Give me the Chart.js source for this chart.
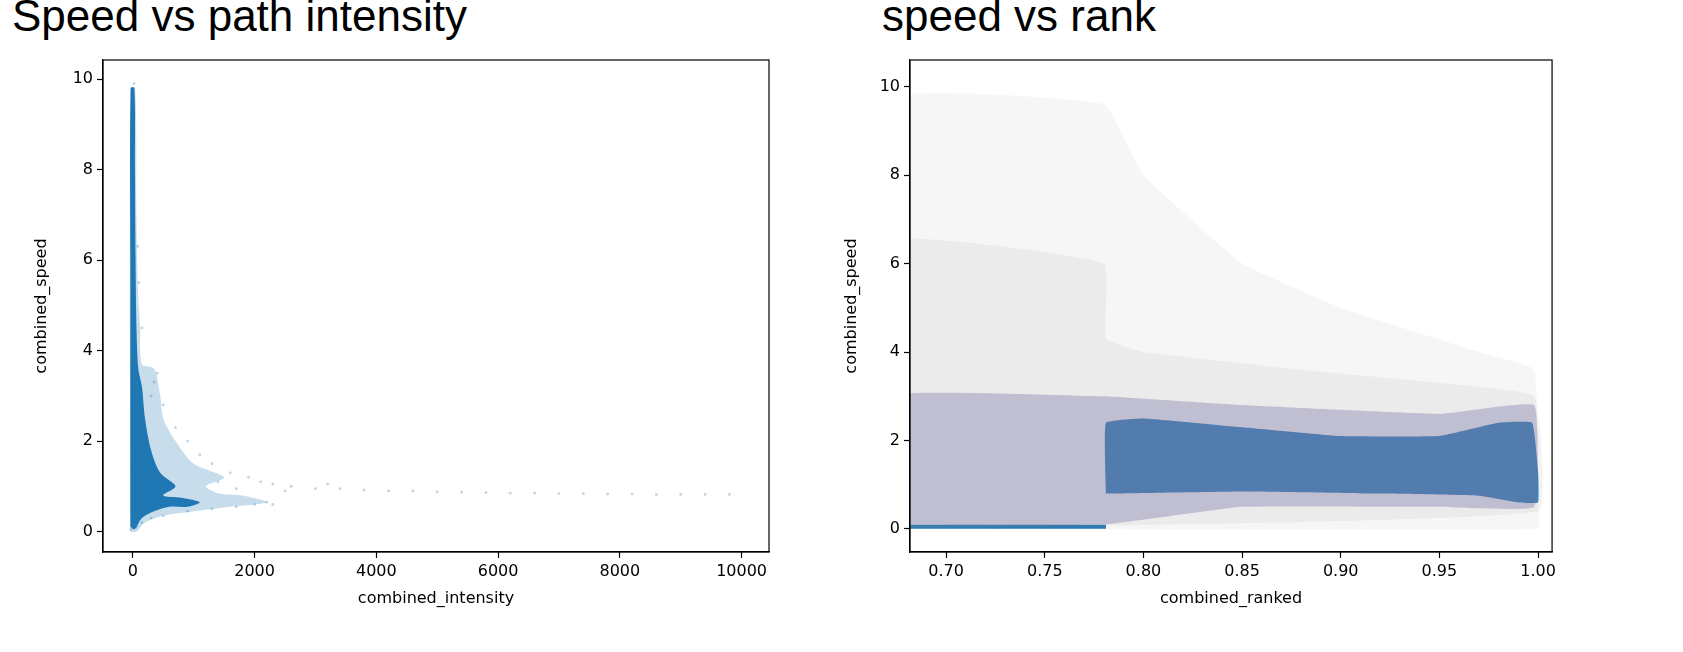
<!DOCTYPE html>
<html><head><meta charset="utf-8">
<script src="https://cdn.jsdelivr.net/npm/chart.js@4/dist/chart.umd.min.js"></script>
<style>
body{margin:0;background:#fff;width:1683px;height:652px;overflow:hidden;font-family:"DejaVu Sans";}
.t{position:absolute;top:-9px;font-family:"Liberation Sans";font-size:44px;color:#000;white-space:nowrap;}
.c{position:absolute;top:0;height:652px;}
</style></head><body>
<div class="t" style="left:12px">Speed vs path intensity</div>
<div class="t" style="left:882px">speed vs rank</div>
<div class="c" style="left:0;width:775px"><canvas id="a"></canvas></div>
<div class="c" style="left:800px;width:760px"><canvas id="b"></canvas></div>
<script>
// ---- left chart data ----
const leftXTicks=[0,2000,4000,6000,8000,10000];
const leftYTicks=[0,2,4,6,8,10];
const leftSparse=[[-30,0.05],[60,0.1],[150,0.2],[300,0.3],[500,0.35],[900,0.45],[1300,0.5],[1700,0.55],[2000,0.6],[2200,0.65],[2300,0.6],[400,3.5],[350,3.3],[300,3.0],[500,2.8],[700,2.3],[900,2.0],[1100,1.7],[1300,1.5],[1600,1.3],[1900,1.2],[2100,1.1],[1400,1.1],[1700,0.95],[2300,1.05],[2600,1.0],[3000,0.95],[3400,0.95],[3800,0.92],[4200,0.9],[4600,0.9],[5000,0.88],[5400,0.87],[5800,0.86],[6200,0.85],[6600,0.85],[7000,0.84],[7400,0.84],[7800,0.83],[8200,0.83],[8600,0.82],[9000,0.82],[9400,0.82],[9800,0.82],[2500,0.9],[3200,1.05],[150,4.5],[100,5.5],[80,6.3],[20,9.9]];
const leftMid=[[-40,0],[60,0],[200,0.2],[500,0.35],[1000,0.45],[1600,0.55],[2200,0.65],[1800,0.8],[1400,0.85],[1200,1.0],[1500,1.2],[1000,1.5],[700,2.0],[500,2.5],[450,3.0],[350,3.6],[150,3.7],[120,4.5],[80,5.5],[60,7],[40,9.8],[-40,9.8],[-40,0]];
const leftCore=[[-40,0.1],[30,0.05],[150,0.3],[350,0.45],[600,0.55],[900,0.55],[1100,0.65],[800,0.75],[500,0.8],[700,1.0],[450,1.3],[300,1.8],[200,2.5],[150,3.2],[90,3.6],[60,4.5],[45,6],[35,8],[25,9.8],[-35,9.8],[-40,6],[-40,0.1]];
// ---- right chart data ----
const rightXTicks=[0.70,0.75,0.80,0.85,0.90,0.95,1.00];
const rightYTicks=[0,2,4,6,8,10];
const rightHaze=[[0.669,0],[1.0,0],[1.0,0.5],[0.998,3.6],[0.97,4.0],[0.9,5.0],[0.85,6.0],[0.8,8.0],[0.78,9.6],[0.669,9.7],[0.669,0]];
const rightHaze2=[[0.669,0],[1.0,0.4],[0.998,3.0],[0.95,3.3],[0.88,3.6],[0.8,4.0],[0.781,4.3],[0.78,6],[0.669,6.5],[0.669,0]];
const rightPurple=[[0.669,0.1],[0.78,0.1],[0.85,0.5],[0.95,0.5],[0.998,0.5],[0.998,2.8],[0.95,2.6],[0.85,2.8],[0.781,3.0],[0.78,3.0],[0.669,3.0],[0.669,0.1]];
const rightCore=[[0.781,0.8],[0.85,0.85],[0.92,0.8],[0.97,0.75],[0.99,0.6],[1.0,0.6],[1.0,1.3],[0.997,2.4],[0.98,2.4],[0.95,2.1],[0.9,2.1],[0.85,2.3],[0.8,2.5],[0.781,2.4],[0.781,0.8]];
const rightZeroLine=[[0.669,0.05],[0.781,0.05]];

function axes(xmin,xmax,ymin,ymax,xt,yt,xl,yl,yw,fmt,ypad){
  const tk={color:'#000',font:{family:'DejaVu Sans',size:16},padding:4};
  const gr={display:true,drawOnChartArea:false,drawTicks:true,tickLength:6,tickColor:'#000',tickWidth:1.2};
  return {
    x:{type:'linear',min:xmin,max:xmax,grid:gr,border:{color:'#000',width:1.2},
       ticks:Object.assign({},tk,{callback:v=>fmt?v.toFixed(2):v,autoSkip:false,maxRotation:0}),afterBuildTicks:s=>{s.ticks=xt.map(v=>({value:v}));},
       title:{display:true,text:xl,color:'#000',font:{family:'DejaVu Sans',size:16},padding:{top:0,bottom:44}},afterFit:s=>{s.height=100;}},
    y:{type:'linear',min:ymin,max:ymax,grid:gr,border:{color:'#000',width:1.2},
       ticks:Object.assign({},tk,{autoSkip:false}),afterBuildTicks:s=>{s.ticks=yt.map(v=>({value:v}));},
       title:{display:true,text:yl,color:'#000',font:{family:'DejaVu Sans',size:16},padding:{top:ypad,bottom:0}},afterFit:s=>{s.width=yw;}}
  };
}
const boxPlugin={id:'box',afterDraw(c){const a=c.chartArea,x=c.ctx;x.save();x.strokeStyle='#000';x.lineWidth=1.2;x.strokeRect(a.left,a.top,a.right-a.left,a.bottom-a.top);x.restore();}};
const pts=a=>a.map(p=>({x:p[0],y:p[1]}));
function poly(d,c,t){return {type:'line',data:pts(d),borderWidth:0,borderColor:c,backgroundColor:c,pointRadius:0,fill:'shape',tension:t};}
const common={responsive:true,maintainAspectRatio:false,animation:false,plugins:{legend:{display:false},tooltip:{enabled:false}},layout:{padding:{top:60,right:6}}};
new Chart(document.getElementById('a'),{type:'scatter',plugins:[boxPlugin],data:{datasets:[
  {data:pts(leftSparse),pointRadius:1.4,backgroundColor:'rgba(31,119,180,0.3)',borderWidth:0},
  poly(leftMid,'rgba(31,119,180,0.25)',0.3),
  poly(leftCore,'rgba(31,119,180,1)',0.3)
]},options:Object.assign({},common,{scales:axes(-490,10450,-0.45,10.42,leftXTicks,leftYTicks,'combined_intensity','combined_speed',103,false,32)})});
new Chart(document.getElementById('b'),{type:'scatter',plugins:[boxPlugin],data:{datasets:[
  poly(rightHaze,'rgba(170,170,170,0.10)',0.1),
  poly(rightHaze2,'rgba(150,150,150,0.12)',0.1),
  poly(rightPurple,'rgba(100,95,165,0.35)',0.1),
  poly(rightCore,'rgba(31,119,180,0.95)',0.1),
  {type:'line',data:pts(rightZeroLine),borderColor:'rgb(31,119,180)',borderWidth:4,pointRadius:0,fill:false}
]},options:Object.assign({},common,{scales:axes(0.6817,1.0071,-0.52,10.6,rightXTicks,rightYTicks,'combined_ranked','combined_speed',110,true,42)})});
</script></body></html>
